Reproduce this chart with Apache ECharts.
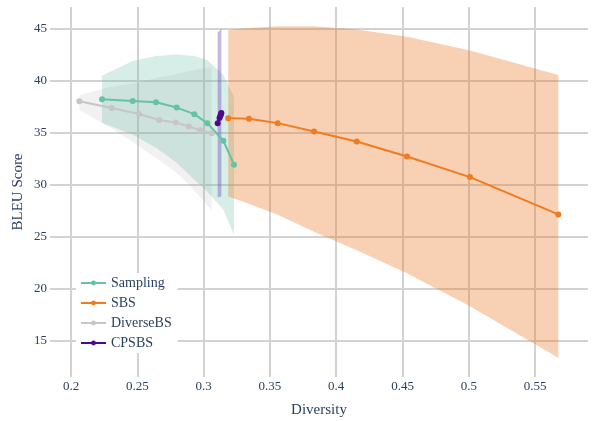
<!DOCTYPE html>
<html>
<head>
<meta charset="utf-8">
<script src="https://cdn.jsdelivr.net/npm/echarts@6/dist/echarts.min.js"></script>
<style>
  html, body { margin: 0; padding: 0; background: #fff; }
  #chart { width: 592px; height: 421px; }
</style>
</head>
<body>
<div id="chart"></div>
<script>
// Sampling
let samplingX = [0.2234, 0.2465, 0.2641, 0.2797, 0.2930, 0.3028, 0.3149, 0.3229]
let samplingY = [38.21, 38.04, 37.92, 37.40, 36.77, 35.91, 34.22, 31.93]
let samplingHi = [40.44, 41.87, 42.35, 42.49, 42.35, 41.97, 40.53, 38.43]
let samplingLo = [35.94, 34.79, 33.54, 32.11, 30.48, 29.33, 27.61, 25.22]

// SBS
let sbsX = [0.3186, 0.3342, 0.3559, 0.3833, 0.4155, 0.4534, 0.5009, 0.5675]
let sbsY = [36.39, 36.32, 35.91, 35.11, 34.15, 32.71, 30.74, 27.16]
let sbsHi = [44.84, 45.03, 45.19, 45.19, 44.89, 44.20, 42.86, 40.53]
let sbsLo = [28.89, 28.19, 27.13, 25.51, 23.73, 21.52, 18.36, 13.42]

// DiverseBS
let diverseX = [0.2063, 0.2307, 0.2513, 0.2666, 0.2790, 0.2888, 0.2975, 0.3061]
let diverseY = [38.01, 37.37, 36.78, 36.21, 35.97, 35.58, 35.23, 34.94]
let diverseHi = [38.6, 39.4, 39.8, 40.3, 40.6, 40.9, 41.1, 41.3]
let diverseLo = [37.14, 35.42, 33.69, 32.35, 31.20, 30.05, 28.81, 27.56]

// CPSBS
let cpsbsX = [0.3106, 0.3120, 0.3127, 0.3131, 0.3134]
let cpsbsY = [35.91, 36.40, 36.62, 36.78, 36.88]
let cpsbsHi = [44.65, 44.75, 44.85, 44.95, 45.03]
let cpsbsLo = [28.80, 28.82, 28.85, 28.88, 28.90]

let xTicks = [0.2, 0.25, 0.3, 0.35, 0.4, 0.45, 0.5, 0.55]
let yTicks = [15, 20, 25, 30, 35, 40, 45]

const font = '"Liberation Serif", "DejaVu Serif", serif'
const textColor = '#2a3f5f'
const gridColor = '#d2d2d2'

function zip(xs, ys) {
  return xs.map((x, i) => [x, ys[i]])
}

function band(xs, lo, hi, color) {
  return {
    type: 'custom',
    xAxisIndex: 0,
    yAxisIndex: 0,
    silent: true,
    data: [[xs[0], lo[0]]],
    renderItem: (params, api) => {
      let pts = []
      xs.forEach((x, i) => pts.push(api.coord([x, hi[i]])))
      for (let i = xs.length - 1; i >= 0; i--) pts.push(api.coord([xs[i], lo[i]]))
      return { type: 'polygon', shape: { points: pts }, style: { fill: color } }
    }
  }
}

function line(name, xs, ys, color, width) {
  return {
    name: name,
    type: 'line',
    xAxisIndex: 0,
    yAxisIndex: 0,
    data: zip(xs, ys),
    symbol: 'circle',
    symbolSize: 6,
    showSymbol: true,
    lineStyle: { color: color, width: width },
    itemStyle: { color: color },
    emphasis: { disabled: true }
  }
}

var chart = echarts.init(document.getElementById('chart'))

let option = {
  animation: false,
  backgroundColor: '#fff',
  textStyle: { fontFamily: font },
  grid: [
    // data area
    { left: 50, right: 4, top: 7, bottom: 44, outerBoundsMode: 'none' },
    // horizontal grid lines + y labels
    { left: 50, right: 4, top: 28.3, bottom: 80, outerBoundsMode: 'none' },
    // vertical grid lines + x labels
    { left: 71, right: 56.9, top: 7, bottom: 44, outerBoundsMode: 'none' }
  ],
  xAxis: [
    {
      gridIndex: 0, type: 'value', min: 0.18416, max: 0.58989,
      axisLine: { show: false }, axisTick: { show: false }, axisLabel: { show: false },
      splitLine: { show: false },
      name: 'Diversity', nameLocation: 'middle', nameGap: 26,
      nameTextStyle: { fontFamily: font, fontSize: 15, color: textColor }
    },
    {
      gridIndex: 1, type: 'value', show: false
    },
    {
      gridIndex: 2, type: 'value', min: xTicks[0], max: xTicks[xTicks.length - 1], interval: 0.05,
      axisLine: { show: false }, axisTick: { show: false },
      axisLabel: {
        fontFamily: font, fontSize: 13, color: textColor, margin: 3,
        formatter: v => String(+v.toFixed(2))
      },
      splitLine: { show: true, lineStyle: { color: gridColor, width: 2 } }
    }
  ],
  yAxis: [
    {
      gridIndex: 0, type: 'value', min: 11.58, max: 47.04,
      axisLine: { show: false }, axisTick: { show: false }, axisLabel: { show: false },
      splitLine: { show: false },
      name: 'BLEU Score', nameLocation: 'middle', nameGap: 24,
      nameTextStyle: { fontFamily: font, fontSize: 15, color: textColor }
    },
    {
      gridIndex: 1, type: 'value', min: yTicks[0], max: yTicks[yTicks.length - 1], interval: 5,
      axisLine: { show: false }, axisTick: { show: false },
      axisLabel: { fontFamily: font, fontSize: 13, color: textColor, margin: 3 },
      splitLine: { show: true, lineStyle: { color: gridColor, width: 2 } }
    },
    {
      gridIndex: 2, type: 'value', show: false
    }
  ],
  legend: {
    data: ['Sampling', 'SBS', 'DiverseBS', 'CPSBS'],
    orient: 'vertical',
    left: 76,
    top: 273,
    padding: [3, 6, 3, 4],
    backgroundColor: '#fff',
    itemWidth: 25,
    itemHeight: 6,
    itemGap: 6,
    textStyle: { fontFamily: font, fontSize: 14, color: textColor, padding: [0, 0, 0, 0] }
  },
  series: [
    band(samplingX, samplingLo, samplingHi, 'rgba(102,194,165,0.27)'),
    line('Sampling', samplingX, samplingY, '#66c2a5', 2),
    band(sbsX, sbsLo, sbsHi, 'rgba(235,120,40,0.35)'),
    line('SBS', sbsX, sbsY, '#f27a1f', 2),
    band(diverseX, diverseLo, diverseHi, 'rgba(170,170,170,0.16)'),
    line('DiverseBS', diverseX, diverseY, '#c6c6c6', 2),
    band(cpsbsX, cpsbsLo, cpsbsHi, 'rgba(120,80,190,0.42)'),
    line('CPSBS', cpsbsX, cpsbsY, '#4b0a8c', 2.5)
  ]
}
chart.setOption(option)
</script>
</body>
</html>
